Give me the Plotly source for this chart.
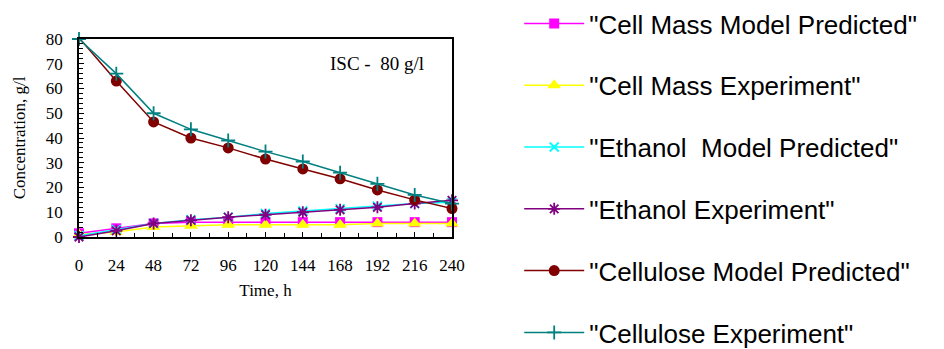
import plotly.graph_objects as go

time_h = [0, 24, 48, 72, 96, 120, 144, 168, 192, 216, 240]
cell_mass_model = [1.5, 3.5, 5.5, 6, 6, 6, 6, 6, 6, 6, 6]
cell_mass_exp = [1, 2, 4, 4.5, 5, 5, 5, 5, 5.5, 5.5, 5.5]
ethanol_model = [0.5, 3, 5.5, 7, 8, 9.5, 10.5, 11.5, 12.5, 13.5, 14]
ethanol_exp = [0, 2.5, 5.5, 6.8, 8, 9, 10, 11, 12, 13.5, 14.8]
cellulose_model = [80.5, 63, 46.5, 40, 36, 31.5, 27.5, 23.5, 19, 15, 11.5]
cellulose_exp = [80, 66, 50, 43.5, 39, 34.5, 30.5, 26, 21.5, 17, 13.5]
x_ticks = [0, 24, 48, 72, 96, 120, 144, 168, 192, 216, 240]
y_ticks = [0, 10, 20, 30, 40, 50, 60, 70, 80]

series = [
    ('"Cell Mass Model Predicted"', cell_mass_model, "#FF00FF", "square", 10),
    ('"Cell Mass Experiment"', cell_mass_exp, "#FFFF00", "triangle-up", 12),
    ('"Ethanol  Model Predicted"', ethanol_model, "#00FFFF", "x-thin", 9),
    ('"Ethanol Experiment"', ethanol_exp, "#800080", "asterisk", 10),
    ('"Cellulose Model Predicted"', cellulose_model, "#800000", "circle", 11),
    ('"Cellulose Experiment"', cellulose_exp, "#008080", "cross-thin", 10),
]

fig = go.Figure()
for i, (name, vals, color, sym, size) in enumerate(series):
    thin = sym in ("x-thin", "cross-thin", "asterisk")
    fig.add_trace(go.Scatter(
        x=time_h, y=vals, name=name, mode="lines+markers",
        line=dict(color=color, width=1.5),
        marker=dict(symbol=sym, size=size, color=color,
                    line=dict(color=color, width=1.8 if thin else 0)),
        cliponaxis=False, legendgroup=f"g{i}",
    ))

fig.add_annotation(x=0.93, y=0.875, xref="paper", yref="paper", showarrow=False,
                   text="ISC -  80 g/l", font=dict(family="Liberation Serif", size=19, color="black"),
                   xanchor="right", yanchor="middle")

axis_common = dict(showline=True, linecolor="black", linewidth=1.5, mirror=True,
                   ticks="inside", ticklen=5, tickcolor="black", showgrid=False, zeroline=False,
                   tickfont=dict(family="Liberation Serif", size=17, color="black"))

fig.update_xaxes(range=[0, 240], tickvals=x_ticks,
                 minor=dict(dtick=12, ticks="inside", ticklen=4, tickcolor="black"),
                 title=dict(text="Time, h", font=dict(family="Liberation Serif", size=17, color="black"), standoff=10),
                 ticklabelstandoff=12, **axis_common)
fig.update_yaxes(range=[0, 80], tickvals=y_ticks,
                 minor=dict(dtick=2, ticks="inside", ticklen=4, tickcolor="black"),
                 title=dict(text="Concentration, g/l", font=dict(family="Liberation Serif", size=17, color="black"), standoff=16),
                 ticklabelstandoff=11, **axis_common)

fig.update_layout(
    width=944, height=349,
    margin=dict(l=79, r=492, t=39, b=112, pad=0, autoexpand=False),
    paper_bgcolor="white", plot_bgcolor="white",
    showlegend=True,
    legend=dict(xref="container", yref="container", x=0.55, y=1.02,
                xanchor="left", yanchor="top", maxheight=1000,
                font=dict(family="Liberation Sans", size=26, color="black"),
                tracegroupgap=25, itemwidth=60, bgcolor="rgba(0,0,0,0)"),
)

fig.write_html("out.html", config={"displayModeBar": False},
               post_script="document.body.style.margin='0';document.body.style.overflow='hidden';")
